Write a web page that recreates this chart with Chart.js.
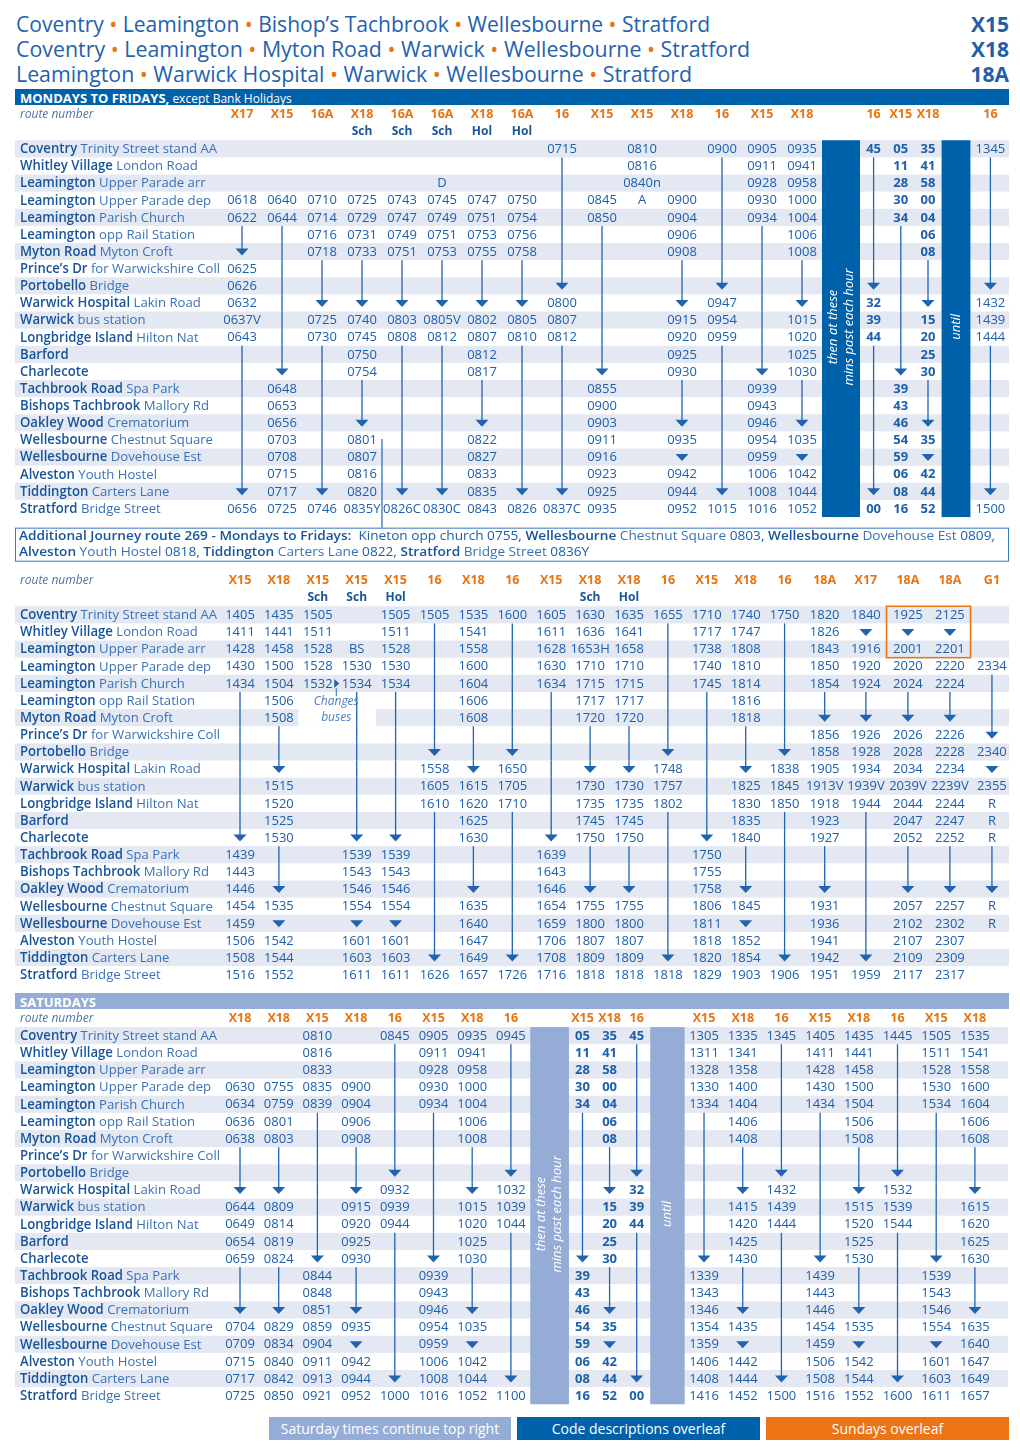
<!DOCTYPE html>
<html>
<head>
<meta charset="utf-8">
<title>X15 X18 18A timetable</title>
<script src="https://cdn.jsdelivr.net/npm/chart.js@4.4.1/dist/chart.umd.min.js"></script>
<style>
  html, body { margin: 0; padding: 0; background: #fff; }
  body { position: relative; width: 1020px; height: 1454px; overflow: hidden; font-family: "Open Sans", sans-serif; }
  .title { position: absolute; left: 16px; font-size: 22.5px; line-height: 24px; color: #1f62ae; white-space: nowrap; transform-origin: 0 50%; }
  .title .dot { color: #ea7411; }
  .code { position: absolute; right: 11px; font-size: 21px; font-weight: 700; color: #1f5ea9; line-height: 24px; }
  .band { position: absolute; left: 15px; width: 994px; height: 16px; color: #fff; line-height: 16px; padding-left: 5px; box-sizing: border-box; white-space: nowrap; }
  .band b { font-size: 13px; }
  .band span { font-size: 12px; }
  .btn { position: absolute; top: 1417px; height: 23px; line-height: 23px; color: #fff; font-size: 14px; text-align: center; }
  canvas { position: absolute; left: 0; }
</style>
</head>
<body>
<div class="title" style="top:12px" data-w="694">Coventry <span class="dot">•</span> Leamington <span class="dot">•</span> Bishop’s Tachbrook <span class="dot">•</span> Wellesbourne <span class="dot">•</span> Stratford</div>
<div class="title" style="top:37px" data-w="734">Coventry <span class="dot">•</span> Leamington <span class="dot">•</span> Myton Road <span class="dot">•</span> Warwick <span class="dot">•</span> Wellesbourne <span class="dot">•</span> Stratford</div>
<div class="title" style="top:62px" data-w="676">Leamington <span class="dot">•</span> Warwick Hospital <span class="dot">•</span> Warwick <span class="dot">•</span> Wellesbourne <span class="dot">•</span> Stratford</div>
<div class="code" style="top:12px">X15</div>
<div class="code" style="top:37px">X18</div>
<div class="code" style="top:62px">18A</div>

<div class="band" style="top:89px;background:#0061ab"><b>MONDAYS TO FRIDAYS,</b><span> except Bank Holidays</span></div>
<div class="band" style="top:993px;background:#94acd6"><b>SATURDAYS</b></div>

<canvas id="mfam"></canvas>
<canvas id="mfpm"></canvas>
<canvas id="sat"></canvas>

<div class="btn" style="left:269px;width:242px;background:#94acd6">Saturday times continue top right</div>
<div class="btn" style="left:517px;width:243px;background:#0061ab">Code descriptions overleaf</div>
<div class="btn" style="left:766px;width:243px;background:#ec7414">Sundays overleaf</div>

<script>
// stops, top to bottom: [bold place, rest]
const stops = [
  ['Coventry', 'Trinity Street stand AA'],
  ['Whitley Village', 'London Road'],
  ['Leamington', 'Upper Parade arr'],
  ['Leamington', 'Upper Parade dep'],
  ['Leamington', 'Parish Church'],
  ['Leamington', 'opp Rail Station'],
  ['Myton Road', 'Myton Croft'],
  ['Prince’s Dr', 'for Warwickshire Coll'],
  ['Portobello', 'Bridge'],
  ['Warwick Hospital', 'Lakin Road'],
  ['Warwick', 'bus station'],
  ['Longbridge Island', 'Hilton Nat'],
  ['Barford', ''],
  ['Charlecote', ''],
  ['Tachbrook Road', 'Spa Park'],
  ['Bishops Tachbrook', 'Mallory Rd'],
  ['Oakley Wood', 'Crematorium'],
  ['Wellesbourne', 'Chestnut Square'],
  ['Wellesbourne', 'Dovehouse Est'],
  ['Alveston', 'Youth Hostel'],
  ['Tiddington', 'Carters Lane'],
  ['Stratford', 'Bridge Street']
];

// cell codes: "-" nothing, "|" bus runs on without stopping, "v" arrow head
// Mondays to Fridays, first block
const mfAmRoutes = ['X17','X15','16A','X18','16A','16A','X18','16A','16','X15','X15','X18','16','X15','X18','16','X15','X18','16'];
const mfAmNotes = ['','','','Sch','Sch','Sch','Hol','Hol','','','','','','','','','','',''];
const mfAmTimes = [
  '- - - 0618 0622 | v 0625 0626 0632 0637V 0643 | | | | | | | | v 0656',
  '- - - 0640 0644 | | | | | | | | v 0648 0653 0656 0703 0708 0715 0717 0725',
  '- - - 0710 0714 0716 0718 | | v 0725 0730 | | | | | | | | v 0746',
  '- - - 0725 0729 0731 0733 | | v 0740 0745 0750 0754 | | v 0801 0807 0816 0820 0835Y',
  '- - - 0743 0747 0749 0751 | | v 0803 0808 | | | | | | | | v 0826C',
  '- - D 0745 0749 0751 0753 | | v 0805V 0812 | | | | | | | | v 0830C',
  '- - - 0747 0751 0753 0755 | | v 0802 0807 0812 0817 | | v 0822 0827 0833 0835 0843',
  '- - - 0750 0754 0756 0758 | | v 0805 0810 | | | | | | | | v 0826',
  '0715 | | | | | | | v 0800 0807 0812 | | | | | | | | v 0837C',
  '- - - 0845 0850 | | | | | | | | v 0855 0900 0903 0911 0916 0923 0925 0935',
  '0810 0816 0840n A - - - - - - - - - - - - - - - - - -',
  '- - - 0900 0904 0906 0908 | | v 0915 0920 0925 0930 | | v 0935 v 0942 0944 0952',
  '0900 | | | | | | | v 0947 0954 0959 | | | | | | | | v 1015',
  '0905 0911 0928 0930 0934 | | | | | | | | v 0939 0943 0946 0954 0959 1006 1008 1016',
  '0935 0941 0958 1000 1004 1006 1008 | | v 1015 1020 1025 1030 | | v 1035 v 1042 1044 1052',
  '45 | | | | | | | v 32 39 44 | | | | | | | | v 00',
  '05 11 28 30 34 | | | | | | | | v 39 43 46 54 59 06 08 16',
  '35 41 58 00 04 06 08 | | v 15 20 25 30 | | v 35 v 42 44 52',
  '1345 | | | | | | | v 1432 1439 1444 | | | | | | | | v 1500'
].map(s => s.split(' '));

const extraJourney = [
  [['b', 'Additional Journey route 269 - Mondays to Fridays:'], ['n', '  Kineton opp church 0755, '], ['b', 'Wellesbourne'], ['r', ' Chestnut Square '], ['n', '0803, '], ['b', 'Wellesbourne'], ['r', ' Dovehouse Est '], ['n', '0809,']],
  [['b', 'Alveston'], ['r', ' Youth Hostel '], ['n', '0818, '], ['b', 'Tiddington'], ['r', ' Carters Lane '], ['n', '0822, '], ['b', 'Stratford'], ['r', ' Bridge Street '], ['n', '0836Y']]
];

// Mondays to Fridays, second block
const mfPmRoutes = ['X15','X18','X15','X15','X15','16','X18','16','X15','X18','X18','16','X15','X18','16','18A','X17','18A','18A','G1'];
const mfPmNotes = ['','','Sch','Sch','Hol','','','','','Sch','Hol','','','','','','','','',''];
const mfPmTimes = [
  '1405 1411 1428 1430 1434 | | | | | | | | v 1439 1443 1446 1454 1459 1506 1508 1516',
  '1435 1441 1458 1500 1504 1506 1508 | | v 1515 1520 1525 1530 | | v 1535 v 1542 1544 1552',
  '1505 1511 1528 1528 1532 - - - - - - - - - - - - - - - - -',
  '- - BS 1530 1534 | | | | | | | | v 1539 1543 1546 1554 v 1601 1603 1611',
  '1505 1511 1528 1530 1534 | | | | | | | | v 1539 1543 1546 1554 v 1601 1603 1611',
  '1505 | | | | | | | v 1558 1605 1610 | | | | | | | | v 1626',
  '1535 1541 1558 1600 1604 1606 1608 | | v 1615 1620 1625 1630 | | v 1635 1640 1647 1649 1657',
  '1600 | | | | | | | v 1650 1705 1710 | | | | | | | | v 1726',
  '1605 1611 1628 1630 1634 | | | | | | | | v 1639 1643 1646 1654 1659 1706 1708 1716',
  '1630 1636 1653H 1710 1715 1717 1720 | | v 1730 1735 1745 1750 | | v 1755 1800 1807 1809 1818',
  '1635 1641 1658 1710 1715 1717 1720 | | v 1730 1735 1745 1750 | | v 1755 1800 1807 1809 1818',
  '1655 | | | | | | | v 1748 1757 1802 | | | | | | | | v 1818',
  '1710 1717 1738 1740 1745 | | | | | | | | v 1750 1755 1758 1806 1811 1818 1820 1829',
  '1740 1747 1808 1810 1814 1816 1818 | | v 1825 1830 1835 1840 | | v 1845 v 1852 1854 1903',
  '1750 | | | | | | | v 1838 1845 1850 | | | | | | | | v 1906',
  '1820 1826 1843 1850 1854 | v 1856 1858 1905 1913V 1918 1923 1927 | | v 1931 1936 1941 1942 1951',
  '1840 v 1916 1920 1924 | v 1926 1928 1934 1939V 1944 | | | | | | | | v 1959',
  '1925 v 2001 2020 2024 | v 2026 2028 2034 2039V 2044 2047 2052 | | v 2057 2102 2107 2109 2117',
  '2125 v 2201 2220 2224 | v 2226 2228 2234 2239V 2244 2247 2252 | | v 2257 2302 2307 2309 2317',
  '- - - 2334 | | | v 2340 v 2355 R R R | | v R R - - -'
].map(s => s.split(' '));

// Saturdays
const satRoutes = ['X18','X18','X15','X18','16','X15','X18','16','X15','X18','16','X15','X18','16','X15','X18','16','X15','X18'];
const satTimes = [
  '- - - 0630 0634 0636 0638 | | v 0644 0649 0654 0659 | | v 0704 0709 0715 0717 0725',
  '- - - 0755 0759 0801 0803 | | v 0809 0814 0819 0824 | | v 0829 0834 0840 0842 0850',
  '0810 0816 0833 0835 0839 | | | | | | | | v 0844 0848 0851 0859 0904 0911 0913 0921',
  '- - - 0900 0904 0906 0908 | | v 0915 0920 0925 0930 | | v 0935 v 0942 0944 0952',
  '0845 | | | | | | | v 0932 0939 0944 | | | | | | | | v 1000',
  '0905 0911 0928 0930 0934 | | | | | | | | v 0939 0943 0946 0954 0959 1006 1008 1016',
  '0935 0941 0958 1000 1004 1006 1008 | | v 1015 1020 1025 1030 | | v 1035 v 1042 1044 1052',
  '0945 | | | | | | | v 1032 1039 1044 | | | | | | | | v 1100',
  '05 11 28 30 34 | | | | | | | | v 39 43 46 54 59 06 08 16',
  '35 41 58 00 04 06 08 | | v 15 20 25 30 | | v 35 v 42 44 52',
  '45 | | | | | | | v 32 39 44 | | | | | | | | v 00',
  '1305 1311 1328 1330 1334 | | | | | | | | v 1339 1343 1346 1354 1359 1406 1408 1416',
  '1335 1341 1358 1400 1404 1406 1408 | | v 1415 1420 1425 1430 | | v 1435 v 1442 1444 1452',
  '1345 | | | | | | | v 1432 1439 1444 | | | | | | | | v 1500',
  '1405 1411 1428 1430 1434 | | | | | | | | v 1439 1443 1446 1454 1459 1506 1508 1516',
  '1435 1441 1458 1500 1504 1506 1508 | | v 1515 1520 1525 1530 | | v 1535 v 1542 1544 1552',
  '1445 | | | | | | | v 1532 1539 1544 | | | | | | | | v 1600',
  '1505 1511 1528 1530 1534 | | | | | | | | v 1539 1543 1546 1554 v 1601 1603 1611',
  '1535 1541 1558 1600 1604 1606 1608 | | v 1615 1620 1625 1630 | | v 1635 1640 1647 1649 1657'
].map(s => s.split(' '));

// ---- styling / layout ----
const DARK = '#0061ab', PALE = '#94acd6', STRIPE = '#e3e8f3', ORANGE = '#e8730f';
const TIME = '#1d5fab', NAMEB = '#17549b', NAMER = '#3a72b7', LINE = '#2063ae';
const FONT = '"Open Sans", "Noto Sans", sans-serif';
const BOLDW = '600 ';
const ROW_H = 17.14;

// every column gets its own object, slots are written onto it
const col = (w, extra) => Object.assign({ w: w }, extra || {});
const rep = (n, w, extra) => Array.from({ length: n }, () => col(w, extra));

const layouts = [
  { id: 'mfam', top: 106, yMin: -2.5, yMax: 24.3, firstX: 242, pitch: 40, headRow: -2,
    routes: mfAmRoutes, notes: mfAmNotes, times: mfAmTimes, left: 15, right: 1009,
    spec: [...rep(15, 1), col(0.95, { bar: 'then', color: DARK }), ...rep(3, 0.68, { bold: true }),
           col(0.72, { bar: 'until', color: DARK }), col(1)],
    extra: true },
  { id: 'mfpm', top: 572, yMin: -2.5, yMax: 21.6, firstX: 240, pitch: 38.9, headRow: -2,
    routes: mfPmRoutes, notes: mfPmNotes, times: mfPmTimes, left: 15, right: 1009,
    spec: [...rep(15, 1), col(1.06), col(1.06), col(1.1), col(1.06), col(1.1)],
    gaps: [{ row: 6, c0: 2, c1: 3 }],
    box: { c0: 17, c1: 18, r0: 0, r1: 2 },
    changes: { c0: 2, c1: 3, row: 4 } },
  { id: 'sat', top: 1010, yMin: -1.5, yMax: 21.6, firstX: 240, pitch: 38.7, headRow: -1,
    routes: satRoutes, notes: null, times: satTimes, left: 15, right: 1008,
    spec: [...rep(8, 1), col(1.0, { bar: 'then', color: PALE }), ...rep(3, 0.7, { bold: true }),
           col(0.89, { bar: 'until', color: PALE }), ...rep(8, 1)] }
];

function setupSlots(L) {
  let s = 0;
  L.spec.forEach((c, i) => { if (i > 0) s += (L.spec[i - 1].w + c.w) / 2; c.slot = s; });
  L.cols = L.spec.filter(c => !c.bar);
  L.bars = L.spec.filter(c => c.bar);
}

function drawRich(ctx, segs, x, y) {
  segs.forEach(([k, txt]) => {
    ctx.font = (k === 'b' ? BOLDW : '400 ') + '13px ' + FONT;
    ctx.fillStyle = k === 'b' ? NAMEB : (k === 'r' ? NAMER : TIME);
    ctx.fillText(txt, x, y);
    x += ctx.measureText(txt).width;
  });
  return x;
}
function richWidth(ctx, segs) {
  let w = 0;
  segs.forEach(([k, txt]) => { ctx.font = (k === 'b' ? BOLDW : '400 ') + '13px ' + FONT; w += ctx.measureText(txt).width; });
  return w;
}

function makePlugin(L) {
  return {
    id: 'timetable_' + L.id,
    beforeDatasetsDraw(chart) {
      const ctx = chart.ctx, xs = chart.scales.x, ys = chart.scales.y;
      const px = v => xs.getPixelForValue(v), py = v => ys.getPixelForValue(v);
      const last = stops.length - 1;
      ctx.save();
      // row stripes
      ctx.fillStyle = STRIPE;
      stops.forEach((s, r) => {
        if (r % 2 === 0) ctx.fillRect(L.left, py(r - 0.5), L.right - L.left, py(r + 0.5) - py(r - 0.5));
      });
      (L.gaps || []).forEach(g => {
        const a = px(L.cols[g.c0].slot - L.cols[g.c0].w / 2), b = px(L.cols[g.c1].slot + L.cols[g.c1].w / 2);
        ctx.fillStyle = '#fff';
        ctx.fillRect(a, py(g.row - 0.5), b - a, py(g.row + 0.5) - py(g.row - 0.5));
      });
      // "then at these mins" bars
      L.bars.forEach(b => {
        const a = px(b.slot - b.w / 2), e = px(b.slot + b.w / 2);
        ctx.fillStyle = b.color;
        ctx.fillRect(a, py(-0.5), e - a, py(last + 0.5) - py(-0.5));
        ctx.save();
        ctx.translate(px(b.slot), py(10.4));
        ctx.rotate(-Math.PI / 2);
        ctx.fillStyle = '#fff';
        ctx.font = 'italic 13px ' + FONT;
        ctx.textAlign = 'center';
        ctx.textBaseline = 'middle';
        if (b.bar === 'then') {
          ctx.fillText('then at these', 0, -8);
          ctx.fillText('mins past each hour', 0, 8);
        } else {
          ctx.fillText('until', 0, 0);
        }
        ctx.restore();
      });
      // run-through lines and arrow heads
      ctx.strokeStyle = LINE;
      ctx.fillStyle = LINE;
      ctx.lineWidth = 1.3;
      L.times.forEach((cells, ci) => {
        const x = px(L.cols[ci].slot);
        cells.forEach((v, r) => {
          if (v === '|') {
            ctx.beginPath(); ctx.moveTo(x, py(r - 0.5)); ctx.lineTo(x, py(r + 0.5)); ctx.stroke();
          } else if (v === 'v') {
            const y = py(r);
            if (r > 0 && cells[r - 1] === '|') {
              ctx.beginPath(); ctx.moveTo(x, py(r - 0.5)); ctx.lineTo(x, y - 2.5); ctx.stroke();
            }
            ctx.beginPath(); ctx.moveTo(x - 6.5, y - 3); ctx.lineTo(x + 6.5, y - 3); ctx.lineTo(x, y + 4); ctx.closePath(); ctx.fill();
          }
        });
      });
      if (L.box) {
        const c0 = L.cols[L.box.c0], c1 = L.cols[L.box.c1];
        const a = px(c0.slot - c0.w / 2), e = px(c1.slot + c1.w / 2);
        ctx.strokeStyle = ORANGE; ctx.lineWidth = 1.5;
        ctx.strokeRect(a, py(L.box.r0 - 0.5), e - a, py(L.box.r1 + 0.5) - py(L.box.r0 - 0.5));
      }
      if (L.changes) {
        const xm = px((L.cols[L.changes.c0].slot + L.cols[L.changes.c1].slot) / 2) - 1;
        const y = py(L.changes.row);
        ctx.fillStyle = LINE; ctx.strokeStyle = LINE; ctx.lineWidth = 1;
        ctx.beginPath(); ctx.moveTo(xm - 2, y - 4.5); ctx.lineTo(xm + 3, y); ctx.lineTo(xm - 2, y + 4.5); ctx.closePath(); ctx.fill();
        ctx.beginPath(); ctx.moveTo(xm, y + 5); ctx.lineTo(xm, py(L.changes.row + 0.75)); ctx.stroke();
        ctx.font = 'italic 12px ' + FONT;
        ctx.fillStyle = '#4b7fc0';
        ctx.textAlign = 'center'; ctx.textBaseline = 'middle';
        ctx.fillText('Changes', xm, py(L.changes.row + 1) + 1);
        ctx.fillText('buses', xm, py(L.changes.row + 2));
      }
      if (L.extra) {
        // pointer from the X18 school bus to the additional journey note
        const xl = px(L.cols[3].slot + 0.5);
        ctx.strokeStyle = LINE; ctx.lineWidth = 1.2;
        ctx.beginPath(); ctx.moveTo(xl, py(17) - 1); ctx.lineTo(xl, py(22.12)); ctx.stroke();
        ctx.strokeStyle = '#3a78c0'; ctx.lineWidth = 1;
        ctx.strokeRect(L.left + 0.5, py(22.12) + 0.5, 993, py(24.05) - py(22.12));
        ctx.textAlign = 'left'; ctx.textBaseline = 'middle';
        const k = 976 / richWidth(ctx, extraJourney[0]);
        ctx.save(); ctx.translate(19, 0); ctx.scale(k, 1);
        drawRich(ctx, extraJourney[0], 0, py(22.62));
        drawRich(ctx, extraJourney[1], 0, py(23.55));
        ctx.restore();
      }
      ctx.restore();
    },
    afterDatasetsDraw(chart) {
      const ctx = chart.ctx, xs = chart.scales.x, ys = chart.scales.y;
      const px = v => xs.getPixelForValue(v), py = v => ys.getPixelForValue(v);
      ctx.save();
      ctx.textBaseline = 'middle';
      // header rows
      ctx.textAlign = 'left';
      ctx.font = 'italic 12px ' + FONT;
      ctx.fillStyle = '#4f72a6';
      ctx.fillText('route number', 20, py(L.headRow));
      ctx.textAlign = 'center';
      ctx.font = '700 12.5px ' + FONT;
      ctx.fillStyle = ORANGE;
      L.routes.forEach((r, i) => ctx.fillText(r, px(L.cols[i].slot), py(L.headRow)));
      if (L.notes) {
        ctx.font = '700 12px ' + FONT;
        ctx.fillStyle = NAMEB;
        L.notes.forEach((n, i) => { if (n) ctx.fillText(n, px(L.cols[i].slot), py(-1)); });
      }
      // stop names, condensed to the printed width
      ctx.textAlign = 'left';
      ctx.font = BOLDW + '13.5px ' + FONT;
      let w = ctx.measureText(stops[0][0]).width;
      ctx.font = '400 13.5px ' + FONT;
      w += ctx.measureText(' ' + stops[0][1]).width;
      const k = Math.min(1, 197 / w);
      ctx.save(); ctx.translate(20, 0); ctx.scale(k, 1);
      stops.forEach((s, r) => {
        const y = py(r) + 0.5;
        ctx.font = BOLDW + '13.5px ' + FONT; ctx.fillStyle = NAMEB;
        ctx.fillText(s[0], 0, y);
        const bw = ctx.measureText(s[0]).width;
        if (s[1]) { ctx.font = '400 13.5px ' + FONT; ctx.fillStyle = NAMER; ctx.fillText(' ' + s[1], bw, y); }
      });
      ctx.restore();
      // the times, at the points the chart placed
      const ds = chart.data.datasets[0];
      const meta = chart.getDatasetMeta(0);
      ctx.textAlign = 'center';
      ctx.fillStyle = TIME;
      meta.data.forEach((el, i) => {
        const d = ds.data[i];
        ctx.font = (d.bold ? '700 ' : '400 ') + '13px ' + FONT;
        ctx.fillText(d.t, el.x, el.y + 0.5);
      });
      ctx.restore();
    }
  };
}

layouts.forEach(L => {
  setupSlots(L);
  const cv = document.getElementById(L.id);
  const h = Math.round((L.yMax - L.yMin) * ROW_H);
  cv.width = 1020; cv.height = h;
  cv.style.top = L.top + 'px'; cv.style.width = '1020px'; cv.style.height = h + 'px';
  const points = [];
  L.times.forEach((cells, ci) => cells.forEach((v, r) => {
    if (v !== '-' && v !== '|' && v !== 'v') points.push({ x: L.cols[ci].slot, y: r, t: v, bold: !!L.cols[ci].bold });
  }));
  new Chart(cv, {
    type: 'scatter',
    data: { datasets: [{ data: points, pointRadius: 0, pointHoverRadius: 0 }] },
    options: {
      responsive: false, animation: false, events: [],
      layout: { padding: 0 },
      plugins: { legend: { display: false }, tooltip: { enabled: false } },
      scales: {
        x: { type: 'linear', display: false, min: -L.firstX / L.pitch, max: (1020 - L.firstX) / L.pitch },
        y: { type: 'linear', display: false, reverse: true, min: L.yMin, max: L.yMax }
      }
    },
    plugins: [makePlugin(L)]
  });
});

// fit the title lines to their printed widths
document.querySelectorAll('.title').forEach(el => {
  const target = +el.dataset.w;
  const w = el.getBoundingClientRect().width;
  el.style.transform = 'scaleX(' + (target / w).toFixed(4) + ')';
});
</script>
</body>
</html>
